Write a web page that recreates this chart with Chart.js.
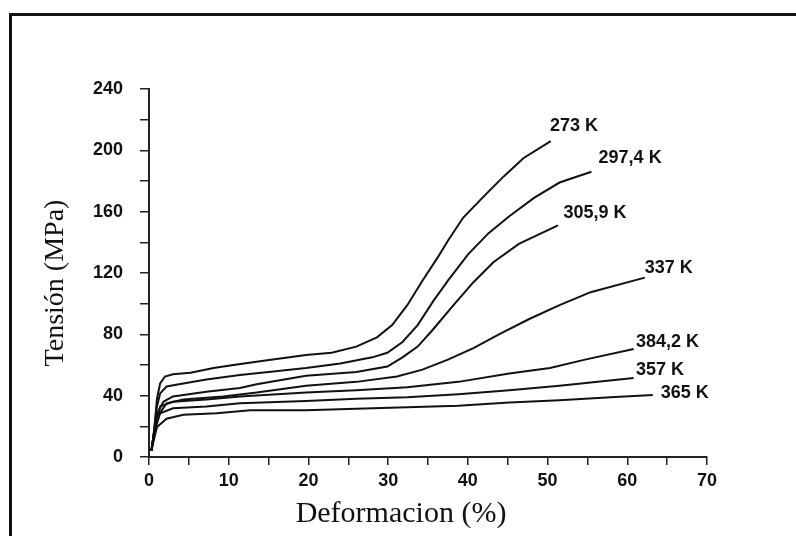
<!DOCTYPE html>
<html lang="es">
<head>
<meta charset="UTF-8">
<title>Tensión vs Deformacion</title>
<script src="https://cdn.jsdelivr.net/npm/chart.js"></script>
<style>
  body { margin: 0; background: #fff; }
  canvas { display: block; }
</style>
</head>
<body>
<canvas id="myChart" width="796" height="536"></canvas>

<script>
// strain (%) and stress (MPa), one pair per temperature
const strain273 = [0.3, 0.6, 1.0, 1.4, 2.0, 3.0, 5.2, 8.1, 10.6, 14.6, 19.7, 22.9, 26.0, 28.6, 30.5, 32.4, 34.3, 36.2, 37.5, 39.4, 42.0, 44.5, 47.0, 50.4];
const stress273 = [4, 15, 38, 48, 52.5, 54, 55, 58, 60, 63, 66.5, 68, 72, 78, 86, 99, 115, 130, 141, 156, 170, 183, 195, 206];

const strain297 = [0.3, 0.6, 1.0, 1.4, 2.2, 4.3, 7.2, 11.4, 15, 19.7, 24, 28, 29.9, 31.8, 33.7, 35.7, 37.5, 40, 42.6, 45.2, 48.3, 51.5, 55.5];
const stress297 = [4, 15, 33, 41.5, 46, 48, 50.5, 53.5, 55.5, 58, 61, 65, 68, 75, 86, 102, 115, 132, 146, 157, 169, 179, 186];

const strain306 = [0.3, 0.6, 1.0, 1.8, 3.0, 7.2, 11.4, 13.5, 19.7, 26, 29.9, 31.8, 33.7, 35.6, 38.2, 40.7, 43.2, 46.4, 51.3];
const stress306 = [4, 15, 28, 36, 39.5, 42.5, 45, 47.5, 53, 55.5, 59, 65, 72, 83, 99, 114, 127, 139, 151];

const strain337 = [0.3, 0.6, 1.0, 2.2, 4.3, 9.3, 13.5, 19.7, 26, 31.1, 34.3, 37.5, 40.7, 43.9, 47.7, 51.5, 55.4, 62.2];
const stress337 = [4, 15, 26, 35, 37.5, 39.5, 42, 46.5, 49, 52.5, 57, 63.5, 71, 80, 90, 99, 107.5, 117];

const strain384 = [0.3, 0.6, 1.0, 1.4, 3.0, 7.2, 11.4, 19.7, 26, 32.4, 38.8, 45.2, 50.3, 54.7, 60.8];
const stress384 = [4, 14, 25, 33, 36, 37.5, 39.5, 42, 43.5, 45.5, 49, 54.5, 58, 63.5, 70.5];

const strain357 = [0.3, 0.6, 1.0, 1.4, 3.0, 7.2, 11.4, 19.7, 26, 32.4, 38.8, 45.2, 51.5, 60.8];
const stress357 = [4, 13, 22, 28.5, 31.8, 33, 35, 36.5, 38, 39, 41, 43.5, 46.5, 51.5];

const strain365 = [0.3, 0.6, 1.0, 2.2, 4.3, 8.5, 12.7, 19.7, 26, 32.4, 38.8, 45.2, 51.5, 57.9, 63.2];
const stress365 = [4, 11, 19.5, 25, 27.5, 28.5, 30.5, 30.5, 31.5, 32.5, 33.5, 35.5, 37, 39, 40.5];

// curve labels and where they sit (in strain %, MPa)
const tempLabels = ['273 K', '297,4 K', '305,9 K', '337 K', '384,2 K', '357 K', '365 K'];
const labelStrain = [50.3, 56.4, 52.0, 62.2, 61.1, 61.1, 64.2];
const labelStress = [216, 195, 159, 123, 75, 57, 42];

const xTitle = 'Deformacion (%)';
const yTitle = 'Tensión (MPa)';

function toPoints(xs, ys) {
    return xs.map((x, i) => ({ x: x, y: ys[i] }));
}

const series = [
    toPoints(strain273, stress273),
    toPoints(strain297, stress297),
    toPoints(strain306, stress306),
    toPoints(strain337, stress337),
    toPoints(strain384, stress384),
    toPoints(strain357, stress357),
    toPoints(strain365, stress365)
];

// frame, axis titles and curve labels
const decorations = {
    id: 'decorations',
    beforeDraw(chart) {
        const ctx = chart.ctx;
        ctx.save();
        ctx.fillStyle = '#fff';
        ctx.fillRect(0, 0, chart.width, chart.height);
        ctx.fillStyle = '#111';
        ctx.fillRect(9, 13, chart.width - 9, 3);
        ctx.fillRect(9, 13, 3, chart.height - 13);
        ctx.restore();
    },
    afterDraw(chart) {
        const ctx = chart.ctx;
        const xs = chart.scales.x;
        const ys = chart.scales.y;
        ctx.save();
        ctx.fillStyle = '#111';
        ctx.textBaseline = 'middle';
        ctx.textAlign = 'left';
        ctx.font = 'bold 18px "Liberation Sans", Arial, sans-serif';
        tempLabels.forEach((t, i) => {
            ctx.fillText(t, xs.getPixelForValue(labelStrain[i]), ys.getPixelForValue(labelStress[i]));
        });

        ctx.textAlign = 'center';
        ctx.font = '30px "Liberation Serif", "Times New Roman", serif';
        ctx.fillText(xTitle, 401, 514);

        ctx.translate(56, 283);
        ctx.rotate(-Math.PI / 2);
        ctx.font = '28px "Liberation Serif", "Times New Roman", serif';
        ctx.fillText(yTitle, 0, 0);
        ctx.restore();
    }
};

const tickFont = { family: '"Liberation Sans", Arial, sans-serif', size: 18, weight: 'bold' };

const ctx = document.getElementById('myChart').getContext('2d');
const chart = new Chart(ctx, {
    type: 'line',
    data: {
        datasets: series.map((pts, i) => ({
            label: tempLabels[i],
            data: pts,
            borderColor: '#111',
            borderWidth: 2,
            pointRadius: 0,
            tension: 0,
            fill: false
        }))
    },
    options: {
        responsive: false,
        animation: false,
        layout: { padding: { left: 0, top: 89, right: 89, bottom: 0 } },
        plugins: {
            legend: { display: false },
            tooltip: { enabled: false }
        },
        scales: {
            x: {
                type: 'linear',
                min: 0,
                max: 70,
                afterFit: (s) => { s.height = 79; },
                grid: { drawOnChartArea: false, drawTicks: true, tickLength: 8, color: '#222', lineWidth: 1.5 },
                border: { display: true, color: '#222', width: 2 },
                ticks: {
                    stepSize: 5,
                    autoSkip: false,
                    maxRotation: 0,
                    padding: 5,
                    color: '#111',
                    font: tickFont,
                    callback: (v) => (v % 10 === 0 ? v : '')
                }
            },
            y: {
                min: 0,
                max: 240,
                afterFit: (s) => { s.width = 149; },
                grid: { drawOnChartArea: false, drawTicks: true, tickLength: 9, color: '#222', lineWidth: 1.5 },
                border: { display: true, color: '#222', width: 2 },
                ticks: {
                    stepSize: 20,
                    autoSkip: false,
                    padding: 17,
                    color: '#111',
                    font: tickFont,
                    callback: (v) => (v % 40 === 0 ? v : '')
                }
            }
        }
    },
    plugins: [decorations]
});
</script>
</body>
</html>
